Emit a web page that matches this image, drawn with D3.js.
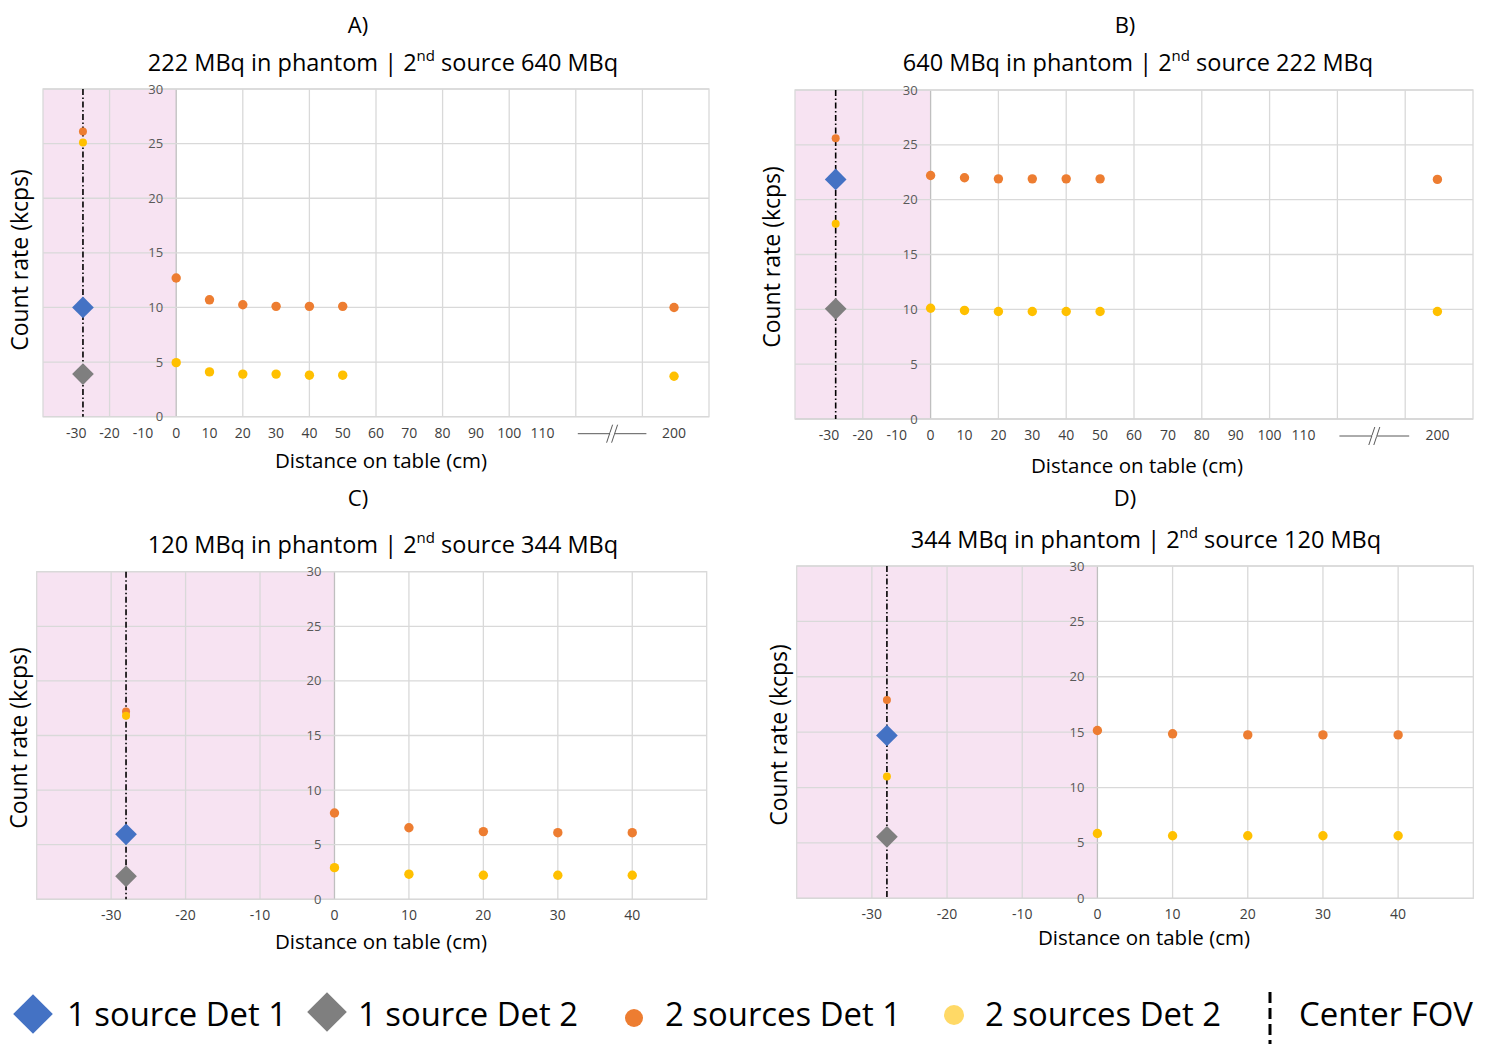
<!DOCTYPE html>
<html>
<head>
<meta charset="utf-8">
<script src="https://cdn.jsdelivr.net/npm/d3@7"></script>
<style>
  body { margin:0; background:#fff; }
  text { font-family: "Open Sans", "Noto Sans", sans-serif; }
  .legtext { font-family: "Liberation Sans Narrow", "Open Sans", sans-serif; }
</style>
</head>
<body>
<svg id="chart" width="1491" height="1044"></svg>
<script>
// center of the field of view, distance on table (cm)
var centerFov = -28;

// panel A : 222 MBq in phantom, 2nd source 640 MBq
var distA = [0, 10, 20, 30, 40, 50, 200];
var oneDet1A = 10.0;
var oneDet2A = 3.9;
var twoDet1CenterA = 26.1;
var twoDet2CenterA = 25.1;
var twoDet1A = [12.7, 10.7, 10.25, 10.1, 10.1, 10.1, 10.0];
var twoDet2A = [4.95, 4.1, 3.9, 3.9, 3.8, 3.8, 3.7];

// panel B : 640 MBq in phantom, 2nd source 222 MBq
var distB = [0, 10, 20, 30, 40, 50, 200];
var oneDet1B = 21.85;
var oneDet2B = 10.05;
var twoDet1CenterB = 25.6;
var twoDet2CenterB = 17.8;
var twoDet1B = [22.2, 22.0, 21.9, 21.9, 21.9, 21.9, 21.85];
var twoDet2B = [10.1, 9.9, 9.8, 9.8, 9.8, 9.8, 9.8];

// panel C : 120 MBq in phantom, 2nd source 344 MBq
var distC = [0, 10, 20, 30, 40];
var oneDet1C = 5.95;
var oneDet2C = 2.1;
var twoDet1CenterC = 17.2;
var twoDet2CenterC = 16.8;
var twoDet1C = [7.9, 6.55, 6.2, 6.1, 6.1];
var twoDet2C = [2.9, 2.3, 2.2, 2.2, 2.2];

// panel D : 344 MBq in phantom, 2nd source 120 MBq
var distD = [0, 10, 20, 30, 40];
var oneDet1D = 14.7;
var oneDet2D = 5.55;
var twoDet1CenterD = 17.9;
var twoDet2CenterD = 11.0;
var twoDet1D = [15.15, 14.85, 14.75, 14.75, 14.75];
var twoDet2D = [5.85, 5.65, 5.65, 5.65, 5.65];

// tick labels
var yTicks = [0, 5, 10, 15, 20, 25, 30];
var xTicksLong = [-30, -20, -10, 0, 10, 20, 30, 40, 50, 60, 70, 80, 90, 100, 110, 200];
var xTicksShort = [-30, -20, -10, 0, 10, 20, 30, 40];

var colors = {det1:"#4472C4", det2:"#7F7F7F", two1:"#ED7D31", two2:"#FFC000"};

var svg = d3.select("#chart");

//draws one panel
var drawPanel = function(p)
{
    var g = svg.append("g");
    var w = p.right - p.left;

    var xScale;
    if (p.broken)
    {
        // axis has a break: 140 is the last gridline, 200 is drawn just after
        var k = w / 200;
        xScale = d3.scaleLinear()
            .domain([-40, 140, 200, 210])
            .range([p.left, p.left + 180*k, p.left + 189.5*k, p.right]);
    }
    else
    {
        xScale = d3.scaleLinear().domain([-40, 50]).range([p.left, p.right]);
    }
    var yScale = d3.scaleLinear().domain([0, 30]).range([p.bottom, p.top]);

    //pink zone left of 0
    g.append("rect")
        .attr("x", xScale(-40))
        .attr("y", yScale(30))
        .attr("width", xScale(0) - xScale(-40))
        .attr("height", yScale(0) - yScale(30))
        .attr("fill", "#F7E3F2");

    //gridlines
    var xGrid = p.broken ? [-20, 0, 20, 40, 60, 80, 100, 120, 140] : [-30, -20, -10, 0, 10, 20, 30, 40];
    g.selectAll(".vgrid")
        .data(xGrid)
        .enter()
        .append("line")
        .attr("x1", function(d){return xScale(d);})
        .attr("x2", function(d){return xScale(d);})
        .attr("y1", yScale(30))
        .attr("y2", yScale(0))
        .attr("stroke", function(d){return d == 0 ? "#BFBFBF" : "#D9D9D9";})
        .attr("stroke-width", 1.3);
    g.selectAll(".hgrid")
        .data(yTicks)
        .enter()
        .append("line")
        .attr("x1", p.left)
        .attr("x2", p.right)
        .attr("y1", function(d){return yScale(d);})
        .attr("y2", function(d){return yScale(d);})
        .attr("stroke", function(d){return d == 0 ? "#C8C8C8" : "#D9D9D9";})
        .attr("stroke-width", 1.3);
    g.append("rect")
        .attr("x", p.left).attr("y", p.top)
        .attr("width", w).attr("height", p.bottom - p.top)
        .attr("fill", "none")
        .attr("stroke", "#D9D9D9")
        .attr("stroke-width", 1.3);

    //y tick labels next to the 0 axis
    g.selectAll(".ylab")
        .data(yTicks)
        .enter()
        .append("text")
        .attr("x", xScale(0) - 13)
        .attr("y", function(d){return yScale(d);})
        .attr("dy", "0.35em")
        .attr("text-anchor", "end")
        .attr("font-size", 13)
        .attr("fill", "#595959")
        .text(function(d){return d;});

    //x tick labels
    var xt = p.broken ? xTicksLong : xTicksShort;
    g.selectAll(".xlab")
        .data(xt)
        .enter()
        .append("text")
        .attr("x", function(d){return xScale(d);})
        .attr("y", p.bottom + 21)
        .attr("text-anchor", "middle")
        .attr("font-size", 14)
        .attr("fill", "#404040")
        .text(function(d){return d;});

    //break mark
    if (p.broken)
    {
        var bx1 = xScale(120) + 2, bx2 = xScale(140) + 4, by = p.bottom + 17;
        var bm = (bx1 + bx2) / 2;
        g.append("line").attr("x1", bx1).attr("x2", bx2).attr("y1", by).attr("y2", by)
            .attr("stroke", "#595959").attr("stroke-width", 1);
        [-2.5, 2.5].forEach(function(o)
        {
            g.append("line")
                .attr("x1", bm + o - 3).attr("y1", by + 9)
                .attr("x2", bm + o + 3).attr("y2", by - 9)
                .attr("stroke", "#595959").attr("stroke-width", 1);
        });
        g.append("rect").attr("x", bm - 2).attr("y", by - 1).attr("width", 4).attr("height", 2).attr("fill", "#fff");
    }

    //center FOV line
    g.append("line")
        .attr("x1", xScale(centerFov)).attr("x2", xScale(centerFov))
        .attr("y1", yScale(30)).attr("y2", yScale(0))
        .attr("stroke", "#000")
        .attr("stroke-width", 1.6)
        .attr("stroke-dasharray", "6,2.5,1.5,2.5");

    //2 sources dots
    var drawDots = function(dist, vals, color, r)
    {
        g.selectAll(null)
            .data(dist.map(function(d, i){return {x:d, y:vals[i]};}))
            .enter()
            .append("circle")
            .attr("cx", function(d){return xScale(d.x);})
            .attr("cy", function(d){return yScale(d.y);})
            .attr("r", r)
            .attr("fill", color);
    }
    drawDots(p.dist, p.two1, colors.two1, 4.7);
    drawDots(p.dist, p.two2, colors.two2, 4.7);
    drawDots([centerFov], [p.two1c], colors.two1, 4);
    drawDots([centerFov], [p.two2c], colors.two2, 4);

    //1 source diamonds
    var diamond = d3.symbol().type(d3.symbolDiamond2).size(300);
    [[p.one1, colors.det1], [p.one2, colors.det2]].forEach(function(o)
    {
        g.append("path")
            .attr("d", diamond)
            .attr("transform", "translate(" + xScale(centerFov) + "," + yScale(o[0]) + ")")
            .attr("fill", o[1]);
    });

    //titles
    g.append("text")
        .attr("x", p.letterX).attr("y", p.letterY)
        .attr("text-anchor", "middle")
        .attr("font-size", 22)
        .attr("fill", "#000")
        .text(p.letter);
    var st = g.append("text")
        .attr("x", p.subX).attr("y", p.subY)
        .attr("text-anchor", "middle")
        .attr("font-size", 23.5)
        .attr("fill", "#000");
    st.append("tspan").text(p.phantom + " MBq in phantom | 2");
    st.append("tspan").attr("dy", -10).attr("font-size", 15).text("nd");
    st.append("tspan").attr("dy", 10).text(" source " + p.second + " MBq");

    g.append("text")
        .attr("transform", "translate(" + p.yTitleX + "," + p.yTitleY + ") rotate(-90)")
        .attr("text-anchor", "middle")
        .attr("dy", "0.35em")
        .attr("font-size", 23)
        .attr("fill", "#000")
        .text("Count rate (kcps)");
    g.append("text")
        .attr("x", p.xTitleX).attr("y", p.xTitleY)
        .attr("text-anchor", "middle")
        .attr("dy", "0.35em")
        .attr("font-size", 20.5)
        .attr("fill", "#000")
        .text("Distance on table (cm)");
}

drawPanel({left:43, right:709, top:89, bottom:416.7, broken:true,
    dist:distA, two1:twoDet1A, two2:twoDet2A, two1c:twoDet1CenterA, two2c:twoDet2CenterA,
    one1:oneDet1A, one2:oneDet2A,
    letter:"A)", letterX:358, letterY:33, phantom:"222", second:"640", subX:383, subY:71,
    yTitleX:20, yTitleY:260, xTitleX:381, xTitleY:461});
drawPanel({left:795, right:1473, top:90, bottom:419, broken:true,
    dist:distB, two1:twoDet1B, two2:twoDet2B, two1c:twoDet1CenterB, two2c:twoDet2CenterB,
    one1:oneDet1B, one2:oneDet2B,
    letter:"B)", letterX:1125, letterY:33, phantom:"640", second:"222", subX:1138, subY:71,
    yTitleX:772, yTitleY:257, xTitleX:1137, xTitleY:466});
drawPanel({left:36.7, right:706.7, top:571.7, bottom:899.3, broken:false,
    dist:distC, two1:twoDet1C, two2:twoDet2C, two1c:twoDet1CenterC, two2c:twoDet2CenterC,
    one1:oneDet1C, one2:oneDet2C,
    letter:"C)", letterX:358, letterY:506, phantom:"120", second:"344", subX:383, subY:553,
    yTitleX:19, yTitleY:738, xTitleX:381, xTitleY:942});
drawPanel({left:796.7, right:1473.3, top:566, bottom:898.3, broken:false,
    dist:distD, two1:twoDet1D, two2:twoDet2D, two1c:twoDet1CenterD, two2c:twoDet2CenterD,
    one1:oneDet1D, one2:oneDet2D,
    letter:"D)", letterX:1125, letterY:506, phantom:"344", second:"120", subX:1146, subY:548,
    yTitleX:779, yTitleY:735, xTitleX:1144, xTitleY:938});

//legend
var legend = svg.append("g");
var bigDiamond = d3.symbol().type(d3.symbolDiamond2).size(1000);
legend.append("path").attr("d", bigDiamond).attr("transform", "translate(33,1014)").attr("fill", colors.det1);
legend.append("path").attr("d", bigDiamond).attr("transform", "translate(327,1012)").attr("fill", colors.det2);
legend.append("circle").attr("cx", 634).attr("cy", 1018).attr("r", 9).attr("fill", colors.two1);
legend.append("circle").attr("cx", 954).attr("cy", 1015).attr("r", 10).attr("fill", "#FFD966");
legend.append("line").attr("x1", 1270).attr("x2", 1270).attr("y1", 992).attr("y2", 1044)
    .attr("stroke", "#000").attr("stroke-width", 3).attr("stroke-dasharray", "11,5");
var legendItems = [["1 source Det 1", 67, 220], ["1 source Det 2", 358, 220], ["2 sources Det 1", 665, 236],
    ["2 sources Det 2", 985, 236], ["Center FOV", 1299, 174]];
legend.selectAll("text")
    .data(legendItems)
    .enter()
    .append("text")
    .attr("class", "legtext")
    .attr("x", function(d){return d[1];})
    .attr("y", 1026)
    .attr("font-size", 32)
    .attr("fill", "#000")
    .attr("textLength", function(d){return d[2];})
    .attr("lengthAdjust", "spacingAndGlyphs")
    .text(function(d){return d[0];});
</script>
</body>
</html>
